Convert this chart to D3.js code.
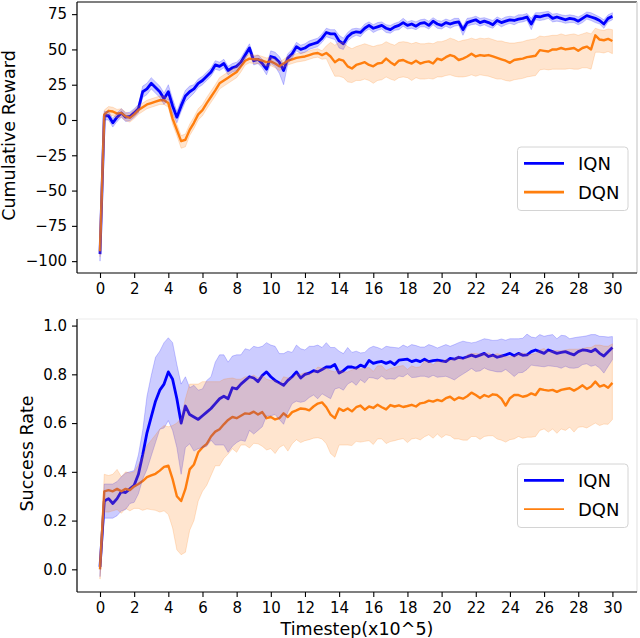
<!DOCTYPE html>
<html lang="en">

<head>
  <meta charset="UTF-8" />
  <title>IQN vs DQN</title>
  <script src="https://d3js.org/d3.v7.min.js"></script>
  <style>
    body {
      margin: 0;
      background-color: #ffffff;
    }

    svg text {
      font-family: "DejaVu Sans", sans-serif;
      fill: #000000;
    }
  </style>
</head>

<body>
  <svg id="chart" width="640" height="638"></svg>

  <script>
    // timesteps (x10^5), one reading every 0.25
    const steps = d3.range(0, 121).map((i) => i / 4);
    const xTicks = d3.range(0, 31, 2);
    const rewardTicks = [-100, -75, -50, -25, 0, 25, 50, 75];
    const successTicks = [0, 0.2, 0.4, 0.6, 0.8, 1.0];
    const seriesNames = ["IQN", "DQN"];

    // cumulative reward, mean and band (above / below the mean)
    const iqnReward = [
      -95, 3, 3, -2, 2, 5, 2, 2.5, 5, 8,
      20, 22, 26, 23, 20, 15, 20, 10, 2, 10,
      17, 20, 22, 26, 28, 31, 34, 39, 38, 40,
      35, 37, 38, 41, 46, 51, 42, 43, 40, 36,
      45, 44, 41, 35, 44, 47, 52, 50, 51, 53,
      54, 55, 58, 62, 61, 61, 56, 54, 59, 61.5,
      62.5, 62, 65, 67, 65, 66, 67, 65, 64, 66,
      67, 69, 67, 68, 66.5, 68.5, 69, 67, 70, 68,
      67, 69, 68, 69, 69.5, 64, 69, 70, 71, 69,
      70, 69, 67.5, 70.5, 69, 70, 71, 70.5, 71.5, 72,
      73, 68, 73.5, 73, 74, 74.5, 72, 73, 72, 71,
      72, 71.5, 70, 72, 74, 73, 72, 70.5, 68, 72,
      73.5
    ];
    const iqnRewardUp = [
      4, 3, 3, 3, 3, 3, 3, 3, 3, 3,
      4, 4, 4, 4, 4, 4, 5, 5, 4, 4,
      4, 4, 3, 3, 3, 3, 3, 3, 3, 3,
      3, 3, 3, 3, 3, 3, 3, 3, 3, 3,
      4, 4, 4, 4, 3, 3, 3, 3, 3, 3,
      3, 3, 3, 3, 3, 3, 4, 4, 3, 3,
      2.5, 2.5, 3, 2.5, 2.5, 3, 2.5, 2.5, 3, 2.5,
      2.5, 3, 2.5, 2.5, 3, 2.5, 2.5, 3, 2.5, 2.5,
      3, 2.5, 2.5, 3, 2.5, 2.5, 3, 2.5, 2.5, 3,
      2.5, 2.5, 3, 2.5, 2.5, 3, 2.5, 2.5, 3, 2.5,
      2.5, 4, 2.5, 3, 2.5, 2.5, 3, 2.5, 2.5, 3,
      2.5, 2.5, 3, 2.5, 2.5, 3, 2.5, 2.5, 3, 2.5,
      2.5
    ];
    const iqnRewardDown = [
      5, 3, 3, 3, 3, 3, 3, 3, 3, 3,
      4, 4, 4, 4, 4, 4, 5, 5, 4, 4,
      4, 4, 3, 3, 3, 3, 3, 3, 3, 3,
      3, 3, 3, 3, 3, 3, 3, 3, 3, 4,
      5, 6, 8, 10, 4, 3, 3, 3, 3, 3,
      3, 3, 3, 3, 3, 4, 5, 4, 3, 3,
      2.5, 3, 2.5, 2.5, 3, 2.5, 2.5, 3, 2.5, 2.5,
      3, 2.5, 2.5, 3, 2.5, 2.5, 3, 2.5, 2.5, 3,
      2.5, 2.5, 3, 2.5, 2.5, 4, 2.5, 2.5, 3, 2.5,
      2.5, 3, 2.5, 2.5, 3, 2.5, 2.5, 3, 2.5, 2.5,
      2.5, 4, 2.5, 2.5, 3, 2.5, 2.5, 3, 2.5, 2.5,
      3, 2.5, 2.5, 3, 2.5, 2.5, 3, 2.5, 3, 2.5,
      2.5
    ];
    const dqnReward = [
      -93, 4, 6.5, 6, 4.5, 5, 2.5, 1.5, 4, 7,
      9, 11, 12, 13, 14, 14, 12, 1, -7, -15,
      -14, -7, -2, 4, 7, 12, 16.5, 21, 26, 28,
      30, 32, 34, 38, 42, 43.5, 43, 43, 42, 41,
      41.5, 40, 38, 40, 42, 43, 44, 44.5, 45, 46,
      47, 47.5, 46, 47.5, 45, 41, 43, 42, 38, 36.5,
      39, 40, 41, 39, 38, 40, 40.5, 43.5, 41, 39,
      42, 42.5, 41, 40, 42, 40, 41, 41.5, 40, 43.5,
      42.5, 44.5, 46, 45, 42.5, 43.5, 45, 47, 45, 46,
      45.5, 46, 45, 44, 43, 42, 40.5, 42.5, 43, 43.5,
      44.5, 45, 45.5, 49.5, 49, 48.5, 50, 50, 51, 50,
      50.5, 51, 49, 51, 52, 50, 60, 57, 56.5, 57.5,
      56
    ];
    const dqnRewardUp = [
      4, 3, 3, 3, 3, 3, 3, 3, 3, 3,
      3, 3, 3, 3, 3, 3, 3, 4, 4, 4,
      4, 4, 4, 4, 4, 4, 4, 4, 4, 4,
      4, 4, 4, 4, 3, 3, 3, 3, 3, 3,
      3, 3, 3, 3, 3, 3, 3, 3, 3, 3,
      3, 3, 3, 5, 10, 12, 12, 13, 14, 14,
      13, 13, 13, 14, 14, 13, 13, 12, 13, 14,
      13, 13, 14, 14, 13, 14, 13, 13, 14, 12,
      13, 12, 12, 12, 13, 13, 12, 11, 12, 12,
      12, 12, 12, 12, 13, 13, 14, 12, 12, 12,
      12, 12, 12, 10, 10, 11, 10, 10, 10, 10,
      10, 10, 11, 10, 10, 11, 5, 7, 7, 7,
      8
    ];
    const dqnRewardDown = [
      4, 3, 3, 3, 3, 3, 3, 3, 3, 3,
      3, 3, 3, 3, 3, 3, 3, 4, 4, 5,
      5, 4, 4, 4, 4, 4, 4, 4, 4, 4,
      4, 4, 4, 4, 3, 3, 3, 3, 3, 3,
      3, 3, 3, 3, 3, 3, 3, 3, 3, 3,
      3, 3, 3, 4, 8, 10, 12, 12, 11, 10,
      11, 12, 12, 11, 12, 12, 12, 13, 12, 11,
      12, 12, 11, 12, 12, 11, 12, 12, 11, 13,
      12, 13, 14, 14, 12, 13, 14, 15, 14, 14,
      14, 15, 15, 15, 14, 14, 13, 14, 14, 14,
      14, 14, 14, 14, 13, 13, 14, 14, 15, 14,
      14, 15, 13, 14, 15, 14, 12, 9, 9, 9,
      9
    ];

    // success rate, mean and band (above / below the mean)
    const iqnSuccess = [
      0.01, 0.28, 0.29, 0.27, 0.29, 0.32, 0.315, 0.33, 0.345, 0.39,
      0.47, 0.56, 0.625, 0.69, 0.735, 0.76, 0.81, 0.78, 0.70, 0.60,
      0.67, 0.635, 0.625, 0.615, 0.63, 0.645, 0.66, 0.68, 0.70, 0.71,
      0.70, 0.745, 0.74, 0.76, 0.775, 0.79, 0.785, 0.77, 0.795, 0.81,
      0.79, 0.775, 0.765, 0.755, 0.775, 0.79, 0.81, 0.785, 0.80, 0.805,
      0.815, 0.81, 0.82, 0.83, 0.83, 0.84, 0.805, 0.815, 0.83, 0.83,
      0.825, 0.838, 0.83, 0.857, 0.845, 0.85, 0.853, 0.845, 0.852, 0.84,
      0.858, 0.86, 0.862, 0.852, 0.858, 0.852, 0.862, 0.852, 0.856, 0.858,
      0.855, 0.852, 0.865, 0.862, 0.87, 0.866, 0.872, 0.879, 0.872, 0.879,
      0.886, 0.873, 0.879, 0.87, 0.875, 0.88, 0.886, 0.876, 0.886, 0.878,
      0.88, 0.893, 0.9, 0.893, 0.886, 0.9, 0.893, 0.886, 0.89, 0.893,
      0.886, 0.88, 0.893, 0.9, 0.898, 0.893, 0.903, 0.886, 0.875, 0.893,
      0.91
    ];
    const iqnSuccessUp = [
      0.01, 0.07, 0.06, 0.08, 0.07, 0.06, 0.08, 0.07, 0.06, 0.08,
      0.1, 0.15, 0.17, 0.18, 0.16, 0.17, 0.14, 0.15, 0.14, 0.16,
      0.12, 0.11, 0.13, 0.12, 0.11, 0.13, 0.13, 0.17, 0.18, 0.17,
      0.15, 0.13, 0.14, 0.12, 0.13, 0.11, 0.13, 0.14, 0.12, 0.12,
      0.13, 0.14, 0.12, 0.13, 0.12, 0.1, 0.11, 0.12, 0.1, 0.11,
      0.1, 0.11, 0.09, 0.1, 0.08, 0.07, 0.09, 0.07, 0.08, 0.06,
      0.07, 0.05, 0.06, 0.05, 0.07, 0.06, 0.05, 0.07, 0.06, 0.07,
      0.05, 0.06, 0.05, 0.07, 0.06, 0.06, 0.05, 0.07, 0.06, 0.05,
      0.06, 0.07, 0.05, 0.06, 0.06, 0.07, 0.06, 0.05, 0.06, 0.06,
      0.06, 0.07, 0.06, 0.07, 0.07, 0.06, 0.06, 0.07, 0.06, 0.07,
      0.085, 0.06, 0.05, 0.07, 0.07, 0.06, 0.07, 0.06, 0.07, 0.065,
      0.06, 0.07, 0.06, 0.055, 0.06, 0.07, 0.06, 0.07, 0.08, 0.06,
      0.045
    ];
    const iqnSuccessDown = [
      0.04, 0.07, 0.08, 0.06, 0.07, 0.08, 0.07, 0.06, 0.07, 0.08,
      0.1, 0.15, 0.16, 0.17, 0.16, 0.18, 0.2, 0.21, 0.2, 0.21,
      0.17, 0.12, 0.14, 0.12, 0.13, 0.14, 0.13, 0.17, 0.19, 0.2,
      0.22, 0.24, 0.22, 0.23, 0.25, 0.22, 0.23, 0.2, 0.21, 0.18,
      0.16, 0.14, 0.15, 0.16, 0.13, 0.11, 0.12, 0.1, 0.11, 0.1,
      0.1, 0.11, 0.1, 0.12, 0.13, 0.1, 0.06, 0.08, 0.07, 0.06,
      0.07, 0.06, 0.065, 0.07, 0.06, 0.07, 0.06, 0.065, 0.07, 0.06,
      0.065, 0.07, 0.06, 0.065, 0.07, 0.06, 0.07, 0.065, 0.06, 0.07,
      0.065, 0.06, 0.08, 0.085, 0.08, 0.065, 0.06, 0.055, 0.06, 0.065,
      0.06, 0.055, 0.065, 0.06, 0.065, 0.06, 0.08, 0.085, 0.08, 0.07,
      0.06, 0.055, 0.065, 0.06, 0.055, 0.065, 0.06, 0.055, 0.065, 0.06,
      0.06, 0.055, 0.065, 0.06, 0.055, 0.06, 0.065, 0.06, 0.07, 0.06,
      0.05
    ];
    const dqnSuccess = [
      0.0, 0.32, 0.325, 0.32, 0.33, 0.32, 0.33, 0.325, 0.34, 0.35,
      0.362, 0.378, 0.385, 0.392, 0.405, 0.42, 0.425, 0.37, 0.30, 0.28,
      0.33, 0.41, 0.43, 0.48, 0.50, 0.515, 0.545, 0.565, 0.575, 0.595,
      0.613, 0.625, 0.62, 0.63, 0.64, 0.638, 0.647, 0.635, 0.645, 0.62,
      0.625, 0.615, 0.62, 0.64, 0.625, 0.645, 0.652, 0.66, 0.658, 0.652,
      0.668, 0.68, 0.685, 0.665, 0.635, 0.62, 0.66, 0.65, 0.66, 0.648,
      0.665, 0.672, 0.655, 0.668, 0.662, 0.675, 0.665, 0.656, 0.674, 0.668,
      0.673, 0.666, 0.67, 0.675, 0.668, 0.681, 0.684, 0.692, 0.688, 0.695,
      0.69, 0.702, 0.708, 0.695, 0.705, 0.7, 0.71, 0.725, 0.715, 0.703,
      0.715, 0.708, 0.718, 0.715, 0.70, 0.672, 0.702, 0.715, 0.715, 0.708,
      0.712, 0.722, 0.715, 0.74, 0.736, 0.733, 0.736, 0.728, 0.736, 0.74,
      0.743, 0.733, 0.743, 0.755, 0.74, 0.75, 0.77, 0.75, 0.756, 0.745,
      0.765
    ];
    const dqnSuccessUp = [
      0.03, 0.07, 0.06, 0.07, 0.08, 0.06, 0.07, 0.07, 0.06, 0.08,
      0.1, 0.13, 0.145, 0.16, 0.17, 0.17, 0.16, 0.22, 0.3, 0.34,
      0.37, 0.35, 0.33, 0.28, 0.27, 0.255, 0.225, 0.205, 0.195, 0.185,
      0.17, 0.16, 0.16, 0.15, 0.15, 0.15, 0.15, 0.15, 0.15, 0.16,
      0.15, 0.16, 0.14, 0.15, 0.16, 0.14, 0.15, 0.14, 0.15, 0.15,
      0.14, 0.15, 0.14, 0.16, 0.18, 0.19, 0.16, 0.16, 0.15, 0.17,
      0.16, 0.15, 0.17, 0.16, 0.15, 0.16, 0.17, 0.16, 0.15, 0.16,
      0.16, 0.17, 0.15, 0.16, 0.16, 0.15, 0.17, 0.16, 0.15, 0.16,
      0.16, 0.16, 0.15, 0.17, 0.17, 0.16, 0.17, 0.16, 0.17, 0.18,
      0.17, 0.18, 0.16, 0.17, 0.18, 0.2, 0.17, 0.16, 0.17, 0.18,
      0.17, 0.16, 0.17, 0.16, 0.17, 0.16, 0.16, 0.17, 0.16, 0.16,
      0.16, 0.17, 0.16, 0.15, 0.17, 0.16, 0.15, 0.17, 0.16, 0.17,
      0.16
    ];
    const dqnSuccessDown = [
      0.04, 0.085, 0.09, 0.08, 0.085, 0.09, 0.08, 0.085, 0.09, 0.1,
      0.12, 0.13, 0.14, 0.15, 0.17, 0.18, 0.2, 0.2, 0.22, 0.22,
      0.26, 0.25, 0.23, 0.2, 0.18, 0.17, 0.16, 0.14, 0.15, 0.14,
      0.14, 0.13, 0.14, 0.12, 0.13, 0.14, 0.13, 0.12, 0.14, 0.13,
      0.13, 0.14, 0.12, 0.13, 0.14, 0.13, 0.12, 0.14, 0.13, 0.12,
      0.13, 0.14, 0.15, 0.15, 0.16, 0.16, 0.15, 0.14, 0.15, 0.14,
      0.14, 0.15, 0.13, 0.14, 0.15, 0.14, 0.13, 0.14, 0.15, 0.14,
      0.14, 0.13, 0.15, 0.14, 0.13, 0.15, 0.14, 0.14, 0.15, 0.14,
      0.15, 0.15, 0.16, 0.16, 0.17, 0.17, 0.18, 0.18, 0.17, 0.17,
      0.17, 0.16, 0.17, 0.18, 0.17, 0.15, 0.17, 0.18, 0.17, 0.17,
      0.17, 0.18, 0.17, 0.17, 0.16, 0.17, 0.16, 0.17, 0.16, 0.17,
      0.16, 0.17, 0.16, 0.17, 0.16, 0.16, 0.17, 0.16, 0.16, 0.15,
      0.15
    ];

    const colors = { IQN: "#0000ff", DQN: "#ff7f0e" };

    const svg = d3.select("#chart");
    const plotLeft = 77;
    const plotRight = 637;

    const x = d3.scaleLinear().domain([-1.347, 31.44]).range([plotLeft, plotRight]);

    function drawPanel(p) {
      const y = d3.scaleLinear().domain(p.domain).range([p.bottom, p.top]);
      const g = svg.append("g");

      // mean curves
      p.series.forEach((s) => {
        const line = d3.line()
          .x((d, i) => x(steps[i]))
          .y((d) => y(d));
        g.append("path")
          .datum(s.mean)
          .attr("d", line)
          .attr("fill", "none")
          .attr("stroke", colors[s.name])
          .attr("stroke-width", s.width)
          .attr("stroke-linejoin", "round");
      });

      // shaded bands on top, like fill_between after plot
      p.series.forEach((s) => {
        const area = d3.area()
          .x((d, i) => x(steps[i]))
          .y0((d, i) => y(d - s.down[i]))
          .y1((d, i) => y(d + s.up[i]));
        g.append("path")
          .datum(s.mean)
          .attr("d", area)
          .attr("fill", colors[s.name])
          .attr("fill-opacity", 0.2)
          .attr("stroke", colors[s.name])
          .attr("stroke-opacity", 0.2)
          .attr("stroke-width", 1);
      });

      // axes
      const xAxis = g.append("g")
        .attr("transform", `translate(0,${p.bottom})`)
        .call(d3.axisBottom(x).tickValues(xTicks).tickFormat(d3.format("d"))
          .tickSize(5).tickPadding(5.5).tickSizeOuter(0));
      const yAxis = g.append("g")
        .attr("transform", `translate(${plotLeft},0)`)
        .call(d3.axisLeft(y).tickValues(p.ticks).tickFormat(d3.format(p.format))
          .tickSize(5).tickPadding(5).tickSizeOuter(0));

      [xAxis, yAxis].forEach((a) => {
        a.select(".domain").remove();
        a.attr("font-size", 15).attr("font-family", "DejaVu Sans");
        a.selectAll(".tick line").attr("stroke", "#000").attr("stroke-width", 1.1);
        a.selectAll(".tick text").attr("fill", "#000");
      });

      // spines
      g.append("line")
        .attr("x1", plotLeft).attr("x2", plotRight)
        .attr("y1", p.top).attr("y2", p.top)
        .attr("stroke", p.topSpine).attr("stroke-width", 1.2);
      g.append("line")
        .attr("x1", plotRight).attr("x2", plotRight)
        .attr("y1", p.top).attr("y2", p.bottom)
        .attr("stroke", p.rightSpine).attr("stroke-width", 1.6);
      g.append("line")
        .attr("x1", plotLeft).attr("x2", plotLeft)
        .attr("y1", p.top).attr("y2", p.bottom)
        .attr("stroke", "#000").attr("stroke-width", 1.2);
      g.append("line")
        .attr("x1", plotLeft).attr("x2", plotRight)
        .attr("y1", p.bottom).attr("y2", p.bottom)
        .attr("stroke", "#000").attr("stroke-width", 1.2);

      // y label
      g.append("text")
        .attr("transform", `translate(${p.labelX},${(p.top + p.bottom) / 2 - 2}) rotate(-90)`)
        .attr("text-anchor", "middle")
        .attr("font-size", 17.5)
        .text(p.label);

      // legend
      const lg = g.append("g").attr("transform", `translate(517.5,${p.top + 145})`);
      lg.append("rect")
        .attr("width", 110.5)
        .attr("height", 63.5)
        .attr("rx", 3.5)
        .attr("fill", "#ffffff")
        .attr("fill-opacity", 0.8)
        .attr("stroke", "#d4d4d4")
        .attr("stroke-width", 1);
      seriesNames.forEach((name, i) => {
        const ly = 16.3 + i * 28.8;
        lg.append("line")
          .attr("x1", 6.5).attr("x2", 46.5)
          .attr("y1", ly).attr("y2", ly)
          .attr("stroke", colors[name])
          .attr("stroke-width", p.legendWidths[i]);
        lg.append("text")
          .attr("x", 60.5)
          .attr("y", ly + 6.6)
          .attr("font-size", 18)
          .text(name);
      });
    }

    drawPanel({
      top: 2,
      bottom: 273,
      domain: [-108.4, 83.6],
      ticks: rewardTicks,
      format: "d",
      label: "Cumulative Reward",
      labelX: 15,
      topSpine: "#000",
      rightSpine: "#d9d9d9",
      legendWidths: [2.7, 2.7],
      series: [
        { name: "IQN", mean: iqnReward, up: iqnRewardUp, down: iqnRewardDown, width: 2.8 },
        { name: "DQN", mean: dqnReward, up: dqnRewardUp, down: dqnRewardDown, width: 2.4 }
      ]
    });

    drawPanel({
      top: 319,
      bottom: 592,
      domain: [-0.093, 1.027],
      ticks: successTicks,
      format: ".1f",
      label: "Success Rate",
      labelX: 32.5,
      topSpine: "#ececec",
      rightSpine: "#ececec",
      legendWidths: [2.8, 1.8],
      series: [
        { name: "IQN", mean: iqnSuccess, up: iqnSuccessUp, down: iqnSuccessDown, width: 2.8 },
        { name: "DQN", mean: dqnSuccess, up: dqnSuccessUp, down: dqnSuccessDown, width: 2.4 }
      ]
    });

    // shared x label
    svg.append("text")
      .attr("x", 357)
      .attr("y", 634.5)
      .attr("text-anchor", "middle")
      .attr("font-size", 17.5)
      .text("Timestep(x10^5)");
  </script>
</body>

</html>
